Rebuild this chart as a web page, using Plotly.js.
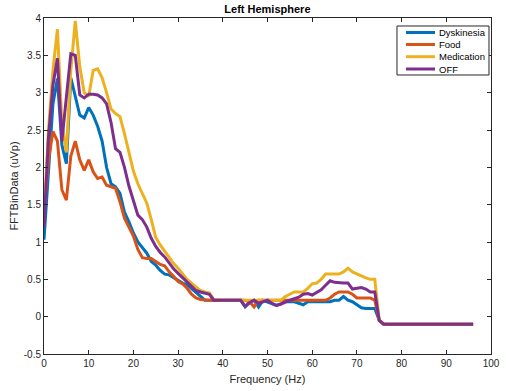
<!DOCTYPE html>
<html>
<head>
<meta charset="utf-8">
<script src="https://cdn.plot.ly/plotly-3.0.1.min.js"></script>
<style>html,body{margin:0;padding:0;background:#fff;}#chart{width:506px;height:391px;}</style>
</head>
<body>
<div id="chart"></div>
<script>
// Frequency (Hz), 0..96
const freq = [];
for (let i = 0; i <= 96; i++) freq.push(i);

const seriesNames = ["Dyskinesia", "Food", "Medication", "OFF"];

const dyskinesia = [1.03,2.0,2.85,3.19,2.3,2.05,3.2,2.95,2.7,2.66,2.8,2.7,2.55,2.35,2.0,1.78,1.74,1.65,1.4,1.27,
1.12,1.0,0.93,0.85,0.74,0.69,0.62,0.57,0.56,0.52,0.48,0.45,0.43,0.38,0.33,0.27,0.22,0.22,0.22,0.22,
0.22,0.22,0.22,0.22,0.22,0.13,0.19,0.22,0.13,0.22,0.2,0.17,0.15,0.17,0.2,0.2,0.2,0.18,0.16,0.2,
0.2,0.2,0.2,0.2,0.2,0.22,0.22,0.27,0.22,0.2,0.16,0.12,0.11,0.11,0.11,-0.05,-0.1,-0.1,-0.1,-0.1,
-0.1,-0.1,-0.1,-0.1,-0.1,-0.1,-0.1,-0.1,-0.1,-0.1,-0.1,-0.1,-0.1,-0.1,-0.1,-0.1,-0.1];

const food = [1.4,2.1,2.48,2.35,1.7,1.56,2.15,2.35,2.1,1.96,2.1,1.94,1.85,1.87,1.76,1.74,1.72,1.54,1.32,1.2,
1.08,0.9,0.79,0.78,0.78,0.74,0.7,0.68,0.6,0.54,0.47,0.44,0.38,0.3,0.25,0.23,0.22,0.22,0.22,0.22,
0.22,0.22,0.22,0.22,0.22,0.22,0.2,0.13,0.22,0.22,0.22,0.22,0.22,0.22,0.22,0.21,0.21,0.21,0.21,0.22,
0.22,0.22,0.22,0.22,0.25,0.3,0.33,0.33,0.33,0.3,0.25,0.25,0.25,0.25,0.22,-0.05,-0.1,-0.1,-0.1,-0.1,
-0.1,-0.1,-0.1,-0.1,-0.1,-0.1,-0.1,-0.1,-0.1,-0.1,-0.1,-0.1,-0.1,-0.1,-0.1,-0.1,-0.1];

const medication = [1.35,2.5,3.3,3.85,2.6,2.2,3.3,3.96,3.35,3.0,2.95,3.3,3.32,3.2,3.0,2.78,2.72,2.68,2.45,2.2,
1.95,1.78,1.66,1.52,1.3,1.06,0.96,0.88,0.8,0.71,0.65,0.58,0.5,0.45,0.4,0.35,0.33,0.32,0.23,0.22,
0.22,0.22,0.22,0.22,0.22,0.22,0.22,0.22,0.22,0.22,0.22,0.22,0.22,0.22,0.27,0.3,0.33,0.33,0.33,0.38,
0.44,0.45,0.5,0.57,0.57,0.57,0.57,0.6,0.65,0.6,0.57,0.55,0.52,0.5,0.5,-0.05,-0.1,-0.1,-0.1,-0.1,
-0.1,-0.1,-0.1,-0.1,-0.1,-0.1,-0.1,-0.1,-0.1,-0.1,-0.1,-0.1,-0.1,-0.1,-0.1,-0.1,-0.1];

const off = [1.2,2.4,3.1,3.46,2.35,2.9,3.52,3.5,2.97,2.93,2.98,2.98,2.97,2.93,2.85,2.6,2.25,2.2,2.0,1.75,
1.55,1.36,1.3,1.2,1.05,0.94,0.86,0.8,0.72,0.64,0.58,0.52,0.47,0.4,0.35,0.33,0.31,0.3,0.22,0.22,
0.22,0.22,0.22,0.22,0.22,0.14,0.19,0.22,0.18,0.2,0.22,0.18,0.15,0.17,0.2,0.22,0.24,0.26,0.3,0.31,
0.29,0.32,0.36,0.42,0.48,0.46,0.45,0.45,0.45,0.37,0.38,0.39,0.37,0.33,0.33,-0.05,-0.1,-0.1,-0.1,-0.1,
-0.1,-0.1,-0.1,-0.1,-0.1,-0.1,-0.1,-0.1,-0.1,-0.1,-0.1,-0.1,-0.1,-0.1,-0.1,-0.1,-0.1];

const xTicks = [0,10,20,30,40,50,60,70,80,90,100];
const yTicks = [-0.5,0,0.5,1,1.5,2,2.5,3,3.5,4];
const yTickLabels = ["-0.5","0","0.5","1","1.5","2","2.5","3","3.5","4"];

const colors = ["#0072BD", "#D95319", "#EDB120", "#7E2F8E"];
const allY = [dyskinesia, food, medication, off];
const FONT = "Liberation Sans, Arial, sans-serif";

const traces = allY.map((y, i) => ({
  x: freq, y: y, type: "scatter", mode: "lines", name: seriesNames[i],
  line: {color: colors[i], width: 3}
}));

// Compact MATLAB-style legend drawn with shapes + annotations (paper coords)
const legShapes = [{
  type: "rect", xref: "paper", yref: "paper",
  x0: 0.7897, x1: 0.9955, y0: 0.8304, y1: 0.9762,
  line: {color: "#262626", width: 1}, fillcolor: "#fff", layer: "above"
}];
const legAnn = [];
const rowY = [0.9568, 0.9211, 0.8848, 0.8482];
seriesNames.forEach((n, i) => {
  legShapes.push({type: "line", xref: "paper", yref: "paper",
    x0: 0.8098, x1: 0.8747, y0: rowY[i], y1: rowY[i],
    line: {color: colors[i], width: 3}, layer: "above"});
  legAnn.push({xref: "paper", yref: "paper", x: 0.8785, y: rowY[i],
    xanchor: "left", yanchor: "middle", text: n, showarrow: false,
    font: {family: FONT, size: 9.5, color: "#000"}});
});

const axisCommon = {
  showline: true, mirror: "ticks", linecolor: "#262626", linewidth: 1,
  ticks: "inside", ticklen: 4, tickcolor: "#262626", tickwidth: 1,
  showgrid: false, zeroline: false,
  tickfont: {family: FONT, size: 10, color: "#262626"}
};

const layout = {
  width: 506, height: 391,
  margin: {l: 44, r: 15, t: 18, b: 37},
  paper_bgcolor: "#fff", plot_bgcolor: "#fff",
  showlegend: false,
  title: {text: "<b>Left Hemisphere</b>", x: 0.5285, xanchor: "center", y: 0.977, yanchor: "middle",
          font: {family: FONT, size: 11, color: "#000"}},
  xaxis: Object.assign({}, axisCommon, {
    range: [0, 100], tickvals: xTicks, ticktext: xTicks.map(String),
    title: {text: "Frequency (Hz)", standoff: 7, font: {family: FONT, size: 11, color: "#262626"}}
  }),
  yaxis: Object.assign({}, axisCommon, {
    range: [-0.5, 4], tickvals: yTicks, ticktext: yTickLabels,
    title: {text: "FFTBinData (uVp)", standoff: 2, font: {family: FONT, size: 11, color: "#262626"}}
  }),
  shapes: legShapes,
  annotations: legAnn
};

Plotly.newPlot("chart", traces, layout, {displayModeBar: false, staticPlot: true});
</script>
</body>
</html>
